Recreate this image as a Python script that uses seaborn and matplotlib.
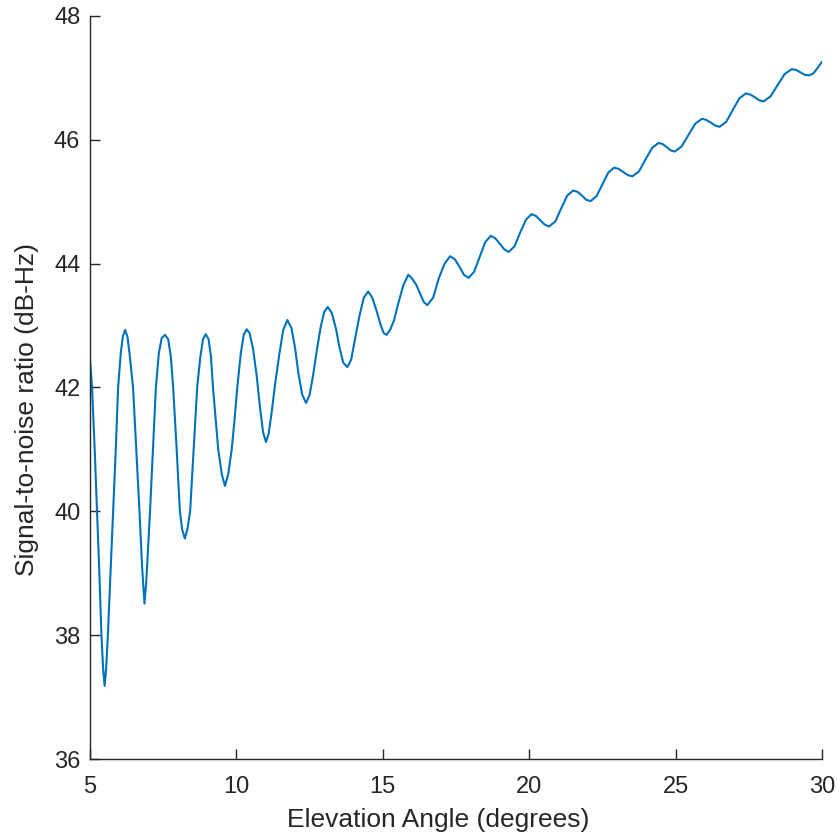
import numpy as np
import pandas as pd
import matplotlib
matplotlib.use("Agg")
import matplotlib.pyplot as plt
import seaborn as sns

# SNR READINGS (elevation angle in degrees, SNR in dB-Hz)
elevation = [
    5.00, 5.07, 5.16, 5.24, 5.32, 5.39, 5.45, 5.50, 5.55, 5.61,
    5.70, 5.79, 5.88, 5.96, 6.05, 6.12, 6.20, 6.28, 6.35, 6.47,
    6.58, 6.69, 6.78, 6.86, 6.92, 7.05, 7.15, 7.25, 7.35, 7.45,
    7.56, 7.67, 7.76, 7.84, 7.96, 8.07, 8.15, 8.24, 8.33, 8.42,
    8.54, 8.66, 8.77, 8.86, 8.95, 9.05, 9.13, 9.20, 9.29, 9.38,
    9.50, 9.61, 9.72, 9.84, 9.94, 10.03, 10.15, 10.25, 10.35,
    10.45, 10.57, 10.69, 10.80, 10.91, 11.01, 11.10, 11.21, 11.32, 11.47,
    11.60, 11.74, 11.88, 12.00, 12.12, 12.25, 12.38, 12.50, 12.62, 12.74,
    12.88, 13.00, 13.12, 13.26, 13.40, 13.52, 13.65, 13.79, 13.92, 14.05,
    14.20, 14.35, 14.50, 14.64, 14.78, 14.92, 15.03, 15.13, 15.25, 15.38,
    15.53, 15.70, 15.87, 16.00, 16.14, 16.27, 16.40, 16.52,
    16.72, 16.91, 17.11, 17.30, 17.46, 17.62, 17.77, 17.93,
    18.12, 18.31, 18.50, 18.69, 18.84, 19.00, 19.15, 19.30,
    19.50, 19.69, 19.89, 20.08, 20.23, 20.38, 20.53, 20.68,
    20.89, 21.09, 21.30, 21.50, 21.65, 21.80, 21.95, 22.10,
    22.30, 22.50, 22.70, 22.90, 23.06, 23.21, 23.37, 23.52,
    23.75, 23.97, 24.20, 24.42, 24.56, 24.70, 24.83, 24.97,
    25.20, 25.44, 25.67, 25.90, 26.05, 26.20, 26.35, 26.50,
    26.73, 26.95, 27.18, 27.40, 27.55, 27.70, 27.85, 28.00,
    28.24, 28.48, 28.72, 28.96, 29.11, 29.26, 29.41, 29.56,
    29.70, 29.85, 30.00,
]

snr = [
    42.45, 42.00, 41.00, 40.00, 39.00, 38.00, 37.45, 37.18, 37.45, 38.00,
    39.00, 40.00, 41.00, 42.00, 42.55, 42.82, 42.93, 42.82, 42.55, 42.00,
    41.00, 40.00, 39.10, 38.51, 38.85, 40.00, 41.00, 42.00, 42.55, 42.80,
    42.85, 42.78, 42.50, 42.00, 41.00, 40.00, 39.70, 39.56, 39.72, 40.00,
    41.00, 42.00, 42.50, 42.78, 42.86, 42.78, 42.50, 42.00, 41.50, 41.00,
    40.60, 40.41, 40.60, 41.00, 41.50, 42.00, 42.55, 42.85, 42.94,
    42.88, 42.62, 42.20, 41.70, 41.28, 41.12, 41.25, 41.62, 42.05, 42.55,
    42.93, 43.09, 42.96, 42.65, 42.22, 41.88, 41.75, 41.88, 42.20, 42.58,
    42.98, 43.22, 43.30, 43.20, 42.95, 42.65, 42.40, 42.33, 42.45, 42.78,
    43.15, 43.45, 43.55, 43.45, 43.25, 43.02, 42.88, 42.85, 42.93, 43.08,
    43.36, 43.65, 43.82, 43.76, 43.66, 43.52, 43.38, 43.33,
    43.45, 43.76, 44.00, 44.12, 44.07, 43.95, 43.82, 43.77,
    43.87, 44.11, 44.35, 44.45, 44.41, 44.32, 44.23, 44.19,
    44.28, 44.50, 44.71, 44.80, 44.77, 44.70, 44.63, 44.60,
    44.68, 44.89, 45.10, 45.18, 45.16, 45.10, 45.03, 45.01,
    45.09, 45.28, 45.47, 45.55, 45.53, 45.48, 45.43, 45.41,
    45.49, 45.68, 45.87, 45.95, 45.93, 45.88, 45.83, 45.81,
    45.89, 46.08, 46.26, 46.34, 46.32, 46.28, 46.23, 46.21,
    46.29, 46.48, 46.67, 46.75, 46.73, 46.69, 46.64, 46.62,
    46.70, 46.88, 47.06, 47.14, 47.13, 47.09, 47.05, 47.04,
    47.07, 47.16, 47.26,
]

x_ticks = [5, 10, 15, 20, 25, 30]
y_ticks = [36, 38, 40, 42, 44, 46, 48]

df = pd.DataFrame({"elevation": elevation, "snr": snr})

# STYLE
sns.set_style("ticks")
plt.rcParams['font.family'] = ['Liberation Sans', 'DejaVu Sans']
grey = "#262626"

fig = plt.figure(figsize=(8.38, 8.36), dpi=100)
ax = fig.add_axes([0.1074, 0.0921, 0.8735, 0.8888])

sns.lineplot(
    data=df,
    x="elevation",
    y="snr",
    color="#0072BD",
    linewidth=1.5,
    estimator=None,
    ax=ax
)

ax.set_xlim(5, 30)
ax.set_ylim(36, 48)
ax.set_xticks(x_ticks)
ax.set_yticks(y_ticks)

ax.set_xlabel("Elevation Angle (degrees)", fontsize=19, color=grey)
ax.set_ylabel("Signal-to-noise ratio (dB-Hz)", fontsize=19, color=grey)

ax.tick_params(direction="in", length=7, width=1, colors=grey, labelsize=17)
ax.tick_params(axis="x", pad=12)
ax.tick_params(axis="y", pad=7)

# label positions (axes fraction)
ax.xaxis.set_label_coords(0.475, -0.066)
ax.yaxis.set_label_coords(-0.07, 0.47)

for side in ["top", "right"]:
    ax.spines[side].set_visible(False)
for side in ["left", "bottom"]:
    ax.spines[side].set_color(grey)
    ax.spines[side].set_linewidth(1)

fig.savefig("out.png", dpi=100)
